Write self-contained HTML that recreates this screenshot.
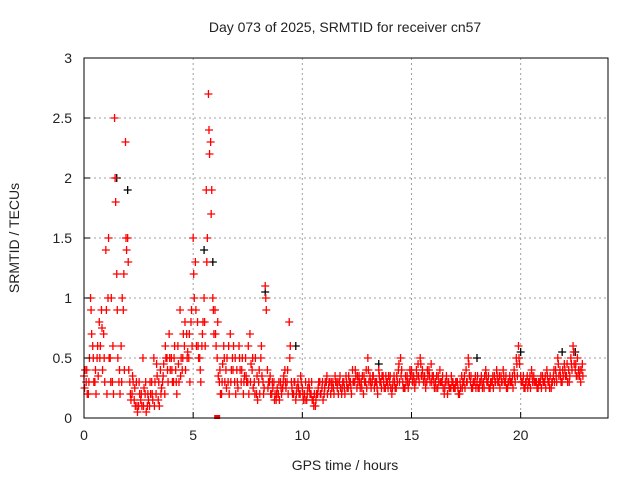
<!DOCTYPE html>
<html><head><meta charset="utf-8"><style>
body{margin:0;background:#fff;}
svg text{font-family:"Liberation Sans",sans-serif;font-size:14px;fill:#222;}
</style></head><body>
<svg id="chart" width="640" height="480">
<rect width="640" height="480" fill="#fff"/>
<text x="345" y="32" text-anchor="middle">Day 073 of 2025, SRMTID for receiver cn57</text>
<text x="345" y="470" text-anchor="middle">GPS time / hours</text>
<text transform="translate(19,238) rotate(-90)" text-anchor="middle">SRMTID / TECUs</text>
<g id="grid"></g><g id="marks"></g><g id="axes"></g>
</svg>
<script>
const xTicks=[0,5,10,15,20];
const yTicks=[0,0.5,1,1.5,2,2.5,3];
const yTickLabels=["0","0.5","1","1.5","2","2.5","3"];
const startA=0, stepA=0.1;
const seriesA=[0.35,0.3,0.2,1.0,0.6,0.3,0.5,0.8,0.9,0.7,
1.4,1.0,0.5,0.3,2.5,1.2,0.3,0.6,0.9,2.3,
1.5,0.3,0.2,0.15,0.3,0.1,0.15,0.5,0.2,0.1,
0.1,0.3,0.5,0.2,0.15,0.4,0.3,0.2,0.5,0.7,
0.5,0.3,0.4,0.6,0.9,0.4,0.6,0.7,0.5,0.8,
1.5,1.3,0.8,0.5,0.6,1.0,1.9,2.7,2.3,1.0,
0.9,0.5,0.3,0.2,0.6,0.4,0.3,0.7,0.5,0.3,
0.4,0.6,0.3,0.2,0.5,0.3,0.7,0.4,0.3,0.2,
0.3,0.5,0.3,1.1,0.4,0.3,0.2,0.3,0.15,0.2,
0.3,0.25,0.4,0.3,0.8,0.3,0.2,0.15,0.3,0.2,
0.25,0.2,0.15,0.3,0.2,0.15,0.1,0.2,0.3,0.25,
0.2,0.3,0.25,0.2,0.3,0.35,0.25,0.3,0.2,0.3,
0.35,0.25,0.3,0.4,0.3,0.25,0.35,0.3,0.2,0.3,
0.5,0.35,0.3,0.25,0.3,0.4,0.3,0.35,0.25,0.3,
0.3,0.2,0.35,0.25,0.4,0.5,0.3,0.25,0.35,0.3,
0.4,0.35,0.3,0.45,0.5,0.4,0.35,0.3,0.4,0.45,
0.35,0.3,0.25,0.4,0.3,0.2,0.35,0.3,0.25,0.3,
0.25,0.3,0.2,0.35,0.3,0.4,0.5,0.3,0.25,0.3,
0.3,0.25,0.35,0.3,0.4,0.3,0.25,0.3,0.35,0.4,
0.3,0.35,0.4,0.3,0.25,0.35,0.3,0.4,0.5,0.6,
0.35,0.3,0.25,0.35,0.3,0.4,0.35,0.3,0.25,0.3,
0.35,0.3,0.4,0.3,0.25,0.35,0.4,0.5,0.4,0.3,
0.45,0.35,0.4,0.5,0.6,0.4,0.5,0.35,0.4];
const startB=0.05, stepB=0.1;
const seriesB=[0.4,0.2,0.5,0.7,0.3,0.2,0.35,0.6,0.4,0.3,
0.2,0.5,1.0,0.2,1.8,0.5,0.2,1.0,0.4,1.4,
0.4,0.15,0.3,0.1,0.05,0.2,0.1,0.25,0.05,0.15,
0.2,0.15,0.3,0.35,0.1,0.25,0.45,0.5,0.3,0.4,
0.3,0.6,0.2,0.3,0.5,0.7,0.4,0.55,0.3,0.6,
1.0,0.6,0.5,0.3,0.8,0.6,1.5,2.2,1.9,0.7,
0.6,0.35,0.2,0.45,0.3,0.5,0.2,0.4,0.6,0.2,
0.25,0.4,0.5,0.35,0.3,0.2,0.45,0.25,0.5,0.15,
0.2,0.35,0.25,0.9,0.3,0.2,0.25,0.2,0.25,0.15,
0.2,0.35,0.25,0.2,0.6,0.2,0.3,0.25,0.2,0.3,
0.15,0.3,0.25,0.2,0.15,0.2,0.2,0.3,0.2,0.15,
0.3,0.2,0.3,0.25,0.2,0.3,0.2,0.25,0.3,0.2,
0.25,0.3,0.2,0.3,0.35,0.3,0.25,0.35,0.3,0.25,
0.3,0.25,0.35,0.3,0.2,0.3,0.35,0.25,0.3,0.35,
0.25,0.3,0.25,0.3,0.3,0.4,0.25,0.3,0.25,0.35,
0.3,0.25,0.35,0.3,0.35,0.3,0.25,0.35,0.3,0.35,
0.25,0.35,0.3,0.3,0.25,0.3,0.2,0.25,0.3,0.25,
0.3,0.2,0.25,0.3,0.25,0.3,0.35,0.25,0.3,0.25,
0.25,0.3,0.25,0.35,0.3,0.25,0.3,0.25,0.3,0.3,
0.25,0.3,0.3,0.25,0.3,0.3,0.25,0.3,0.35,0.45,
0.3,0.25,0.3,0.3,0.25,0.3,0.3,0.25,0.3,0.25,
0.3,0.25,0.3,0.35,0.3,0.3,0.3,0.35,0.3,0.35,
0.35,0.3,0.35,0.4,0.45,0.35,0.4,0.3,0.35];
const startC=0.025, stepC=0.1;
const seriesC=[0.25,0.4,0.3,0.9,0.5,0.4,0.6,0.5,0.75,0.5,
0.9,1.5,0.3,0.6,2.0,0.9,0.4,0.3,1.2,1.5,
1.3,0.2,0.35,0.25,0.1,0.3,0.2,0.1,0.3,0.2,
0.3,0.2,0.1,0.45,0.3,0.2,0.35,0.6,0.4,0.5,
0.4,0.5,0.3,0.45,0.35,0.5,0.8,0.5,0.7,0.9,
1.2,0.9,0.6,0.4,0.7,0.8,1.3,2.4,1.7,0.9,
0.7,0.8,0.4,0.3,0.5,0.25,0.6,0.3,0.4,0.5,
0.3,0.5,0.4,0.3,0.35,0.6,0.3,0.5,0.2,0.35,
0.4,0.6,0.2,1.0,0.25,0.35,0.3,0.15,0.2,0.3,
0.25,0.3,0.3,0.4,0.5,0.25,0.3,0.2,0.25,0.35,
0.2,0.15,0.2,0.25,0.3,0.1,0.15,0.25,0.2,0.3,
0.25,0.35,0.3,0.3,0.25,0.3,0.3,0.35,0.25,0.25,
0.3,0.35,0.25,0.3,0.4,0.35,0.3,0.25,0.35,0.4,
0.4,0.3,0.35,0.3,0.25,0.35,0.25,0.3,0.35,0.25,
0.35,0.25,0.3,0.35,0.45,0.35,0.25,0.35,0.3,0.4,
0.35,0.3,0.4,0.35,0.45,0.35,0.3,0.4,0.35,0.3,
0.3,0.25,0.35,0.3,0.35,0.25,0.3,0.25,0.35,0.25,
0.3,0.25,0.3,0.25,0.35,0.3,0.45,0.35,0.3,0.35,
0.35,0.3,0.3,0.25,0.35,0.35,0.3,0.35,0.3,0.35,
0.35,0.3,0.35,0.35,0.3,0.3,0.35,0.35,0.45,0.5,
0.3,0.35,0.3,0.25,0.35,0.35,0.3,0.3,0.3,0.35,
0.3,0.35,0.35,0.25,0.3,0.4,0.35,0.45,0.35,0.4,
0.4,0.45,0.3,0.45,0.55,0.45,0.35,0.4,0.45];
const blackTimes=[1.5,2.0,5.5,5.9,8.3,9.7,13.5,18.0,20.0,21.9,22.5];
const blackValues=[2.0,1.9,1.4,1.3,1.05,0.6,0.45,0.5,0.55,0.55,0.55];
const outlierTimes=[6.1];
const outlierValues=[0];

const X0=84,X1=608,Y0=418,Y1=58;
const xs=t=>X0+(t/24)*(X1-X0);
const ys=v=>Y0-(v/3)*(Y0-Y1);
const NS="http://www.w3.org/2000/svg";
function mk(tag,attrs,parent){const e=document.createElementNS(NS,tag);for(const k in attrs)e.setAttribute(k,attrs[k]);parent.appendChild(e);return e;}
const grid=document.getElementById('grid'),marks=document.getElementById('marks'),axes=document.getElementById('axes');
xTicks.forEach(t=>{
 if(t>0){const l=mk('line',{x1:xs(t),x2:xs(t),y1:Y1,y2:Y0,stroke:'#a0a0a0','stroke-dasharray':'2,3'},grid);
 
 }
 const tk=mk('line',{x1:xs(t),x2:xs(t),y1:Y0,y2:Y0-6,stroke:'#000'},axes);
 
 
 const tx=mk('text',{x:xs(t),y:Y0+22,'text-anchor':'middle'},axes);tx.textContent=String(t);
 
 
});
yTicks.forEach((v,i)=>{
 if(v>0&&v<3){const l=mk('line',{x1:X0,x2:X1,y1:ys(v),y2:ys(v),stroke:'#a0a0a0','stroke-dasharray':'2,3'},grid);
 
 }
 const tk=mk('line',{x1:X0,x2:X0+6,y1:ys(v),y2:ys(v),stroke:'#000'},axes);
 
 
 const tx=mk('text',{x:X0-12,y:ys(v)+5,'text-anchor':'end'},axes);tx.textContent=yTickLabels[i];
 
 
});
const frame=mk('rect',{x:X0,y:Y1,width:X1-X0,height:Y0-Y1,fill:'none',stroke:'#000'},axes);


function plus(t,v,col){
 const x=xs(t),y=ys(v);
 const p=mk('path',{d:`M${x-4},${y}H${x+4}M${x},${y-4}V${y+4}`,stroke:col,'stroke-width':1.3,fill:'none'},marks);
 
 
}
blackTimes.forEach((t,i)=>plus(t,blackValues[i],'#000'));
seriesA.forEach((v,i)=>plus(startA+i*stepA,v,'#f00'));
seriesB.forEach((v,i)=>plus(startB+i*stepB,v,'#f00'));
seriesC.forEach((v,i)=>plus(startC+i*stepC,v,'#f00'));
outlierTimes.forEach((t,i)=>{
 const r=mk('rect',{x:xs(t)-3,y:ys(outlierValues[i])-3,width:6,height:4,fill:'#f00'},marks);
 
 
});
</script>
</body></html>
